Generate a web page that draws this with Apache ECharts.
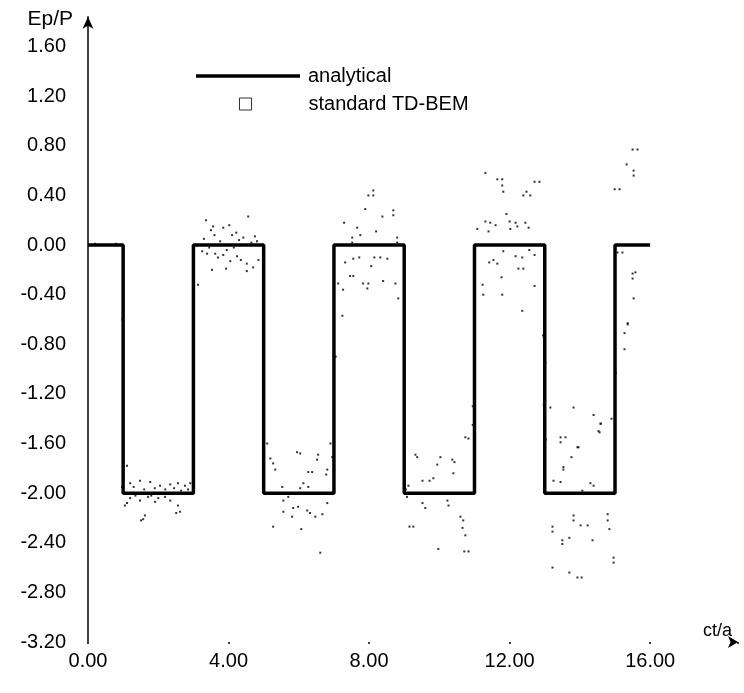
<!DOCTYPE html>
<html>
<head>
<meta charset="utf-8">
<script src="https://cdn.jsdelivr.net/npm/echarts@6/dist/echarts.min.js"></script>
<style>html,body{margin:0;padding:0;background:#fff;}#c{width:744px;height:693px;}</style>
</head>
<body>
<div id="c"></div>
<script>
// Analytical square wave (ct/a, Ep/P)
const analyticalX = [0, 1, 1, 3, 3, 5, 5, 7, 7, 9, 9, 11, 11, 13, 13, 15, 15, 16];
const analyticalY = [0, 0, -2, -2, 0, 0, -2, -2, 0, 0, -2, -2, 0, 0, -2, -2, 0, 0];

// Standard TD-BEM scattered results [ct/a, Ep/P]
const bemPoints = [
  [0.2,0.01],[0.5,0.0],[0.8,0.01],[1.0,-0.14],[0.98,-0.6],
  // segment 1 bottom
  [1.11,-1.78],[1.48,-1.9],[1.77,-1.91],[2.05,-1.94],[2.34,-1.93],[2.56,-1.92],[2.76,-1.94],[2.91,-1.92],
  [1.3,-1.95],[1.6,-1.97],[1.9,-1.96],[2.2,-1.97],[2.45,-1.96],[2.65,-1.98],[1.2,-1.92],[2.85,-1.97],
  [1.11,-2.08],[1.2,-2.04],[1.48,-2.06],[1.71,-2.03],[1.91,-2.07],[2.19,-2.03],[2.34,-2.06],[2.56,-2.1],
  [2.62,-2.15],[2.51,-2.16],[1.57,-2.21],[1.62,-2.18],[1.51,-2.22],[1.05,-2.1],[0.97,-1.95],[1.35,-2.02],[1.8,-2.02],[2.0,-2.04],
  // segment 2 top
  [3.36,0.2],[4.56,0.23],[3.56,0.15],[3.85,0.14],[4.02,0.16],[4.22,0.1],[4.42,0.06],[4.81,0.03],[3.76,0.03],
  [3.39,-0.07],[3.62,-0.07],[4.24,-0.09],[4.52,-0.15],[4.85,-0.12],[3.53,-0.2],[3.93,-0.19],[4.52,-0.21],[3.13,-0.32],
  [3.5,0.12],[4.1,0.08],[4.65,0.02],[3.95,-0.04],[4.35,-0.12],[3.25,-0.05],[4.7,-0.18],[4.05,-0.13],[3.7,-0.1],
  [3.3,0.05],[3.45,-0.02],[4.3,0.04],[4.75,0.07],[3.85,-0.08],[4.15,-0.02],[3.6,0.08],
  // segment 2 bottom
  [5.19,-1.72],[5.27,-1.76],[5.33,-1.81],[5.95,-1.67],[6.04,-1.68],[6.55,-1.69],[6.52,-1.73],[6.27,-1.83],[6.38,-1.83],
  [6.81,-1.81],[6.78,-1.85],[6.95,-1.71],[6.13,-1.92],[6.27,-1.95],[6.04,-1.96],[5.53,-1.95],[5.56,-2.06],[5.7,-2.03],
  [5.84,-2.12],[5.98,-2.11],[6.24,-2.14],[6.32,-2.16],[6.47,-2.19],[6.67,-2.17],[6.81,-2.08],[5.56,-2.15],[5.81,-2.19],
  [5.27,-2.27],[6.07,-2.29],[6.61,-2.48],[5.1,-1.6],[6.9,-1.6],
  // segment 3 top
  [8.12,0.44],[7.98,0.4],[8.12,0.4],[7.89,0.29],[8.69,0.28],[8.69,0.24],[8.38,0.23],[7.29,0.18],[7.66,0.14],[8.2,0.11],
  [7.75,0.08],[7.52,0.06],[7.52,0.02],[8.8,0.06],[8.8,0.02],[7.32,-0.14],[7.55,-0.11],[7.72,-0.1],[8.15,-0.1],[8.32,-0.1],
  [8.52,-0.11],[8.06,-0.17],[7.46,-0.25],[7.55,-0.25],[7.12,-0.31],[7.83,-0.31],[7.98,-0.31],[7.95,-0.35],[8.4,-0.29],
  [8.75,-0.31],[7.26,-0.36],[8.83,-0.43],[7.24,-0.57],[7.05,-0.9],
  // segment 3 bottom
  [9.32,-1.69],[9.37,-1.71],[10.03,-1.71],[9.94,-1.77],[10.37,-1.73],[10.43,-1.75],[10.4,-1.84],[10.74,-1.55],[10.83,-1.56],
  [9.52,-1.9],[9.72,-1.9],[9.83,-1.88],[9.12,-1.94],[9.52,-2.08],[9.6,-2.12],[10.23,-2.06],[10.26,-2.1],[10.6,-2.19],
  [10.68,-2.22],[9.15,-2.27],[9.26,-2.27],[10.66,-2.28],[10.74,-2.34],[9.97,-2.45],[10.71,-2.47],[10.83,-2.47],
  [9.05,-1.97],[9.08,-2.03],[10.95,-1.3],[10.95,-1.45],
  // segment 4 top
  [11.31,0.58],[11.65,0.53],[11.79,0.53],[11.79,0.48],[12.71,0.51],[12.85,0.51],[11.82,0.43],[12.48,0.43],[12.39,0.4],
  [12.59,0.4],[11.91,0.25],[11.31,0.19],[11.45,0.18],[11.6,0.16],[11.08,0.13],[11.4,0.11],[12.0,0.19],[12.02,0.13],
  [12.17,0.18],[12.22,0.15],[12.45,0.18],[12.54,0.14],[11.82,-0.05],[12.17,-0.09],[12.56,-0.04],[12.71,-0.08],
  [11.42,-0.14],[11.54,-0.12],[11.65,-0.15],[12.36,-0.1],[12.25,-0.19],[12.39,-0.19],[11.77,-0.26],[11.23,-0.32],
  [12.71,-0.33],[11.25,-0.4],[11.79,-0.4],[12.36,-0.53],
  // segment 4 bottom
  [13.45,-1.55],[13.59,-1.55],[13.45,-1.59],[13.96,-1.63],[14.59,-1.44],[14.56,-1.51],[13.76,-1.71],[13.53,-1.79],
  [13.53,-1.81],[13.25,-1.9],[13.45,-1.91],[14.3,-1.92],[14.39,-1.94],[14.07,-1.98],[13.82,-2.18],[13.82,-2.22],
  [14.02,-2.26],[14.22,-2.26],[14.79,-2.17],[14.79,-2.22],[14.84,-2.29],[13.22,-2.27],[13.22,-2.31],[13.5,-2.38],
  [13.5,-2.41],[13.7,-2.36],[14.36,-2.38],[14.96,-2.52],[14.96,-2.56],[13.22,-2.6],[13.7,-2.64],[13.93,-2.68],[14.05,-2.68],
  [13.16,-1.31],[13.82,-1.31],[14.39,-1.37],[14.59,-1.44],[14.53,-1.5],[13.93,-1.63],
  [12.95,-0.73],[13.02,-0.95],[12.97,-1.29],[13.03,-1.57],[15.0,-0.62],[15.02,-1.03],[14.9,-1.4],
  // segment 5 top
  [15.33,0.65],[15.53,0.6],[15.53,0.56],[14.99,0.45],[15.13,0.45],[15.5,0.77],[15.64,0.77],
  [15.07,-0.06],[15.21,-0.06],[15.5,-0.23],[15.58,-0.22],[15.5,-0.27],[15.53,-0.43],[15.36,-0.63],
  [15.36,-0.64],[15.27,-0.71],[15.27,-0.84]
];

const xTicks = [0, 4, 8, 12, 16];
const yTicks = [-3.2, -2.8, -2.4, -2.0, -1.6, -1.2, -0.8, -0.4, 0, 0.4, 0.8, 1.2, 1.6];

const FONT = "'Liberation Sans', Arial, sans-serif";
const chart = echarts.init(document.getElementById('c'), null, {renderer: 'canvas'});
const analyticalData = analyticalX.map((x, i) => [x, analyticalY[i]]);

chart.setOption({
  backgroundColor: '#fff',
  animation: false,
  textStyle: {fontFamily: FONT, color: '#000'},
  grid: {left: 88, right: 6, top: 16.8, bottom: 51, containLabel: false},
  legend: [
    {
      data: [{name: 'analytical', icon: 'rect', itemStyle: {color: '#000', borderWidth: 0}}],
      left: 196, top: 66, padding: 0, itemWidth: 104, itemHeight: 3.5,
      textStyle: {fontSize: 20, fontFamily: FONT, color: '#000', padding: [0, 0, 0, 3]}
    },
    {
      data: [{name: 'standard TD-BEM', icon: 'rect', itemStyle: {color: '#fff', borderColor: '#000', borderWidth: 1}}],
      left: 239, top: 94, padding: 0, itemWidth: 12, itemHeight: 12,
      textStyle: {fontSize: 20, fontFamily: FONT, color: '#000', padding: [0, 0, 0, 52]}
    }
  ],
  xAxis: {
    type: 'value', min: 0, max: 18.5, interval: 4,
    name: 'ct/a', nameLocation: 'end', nameGap: 0,
    nameTextStyle: {fontSize: 18, fontFamily: FONT, color: '#000', align: 'right', verticalAlign: 'bottom', padding: [0, 6, 2, 0]},
    axisLine: {show: true, onZero: false, symbol: ['none', 'arrow'], symbolSize: [9, 10], symbolOffset: [0, 0], lineStyle: {color: '#000', width: 0}},
    axisTick: {show: true, length: 2, lineStyle: {color: '#000', width: 1.5}},
    splitLine: {show: false},
    axisLabel: {
      fontSize: 20, fontFamily: FONT, color: '#000', margin: 9,
      formatter: v => xTicks.some(t => Math.abs(t - v) < 1e-6) ? v.toFixed(2) : ''
    }
  },
  yAxis: {
    type: 'value', min: -3.2, max: 1.84, interval: 0.4,
    name: 'Ep/P', nameLocation: 'end', nameGap: -2,
    nameTextStyle: {fontSize: 21, fontFamily: FONT, color: '#000', align: 'right', verticalAlign: 'middle', padding: [0, 15, 0, 0]},
    axisLine: {show: true, onZero: false, symbol: ['none', 'arrow'], symbolSize: [8, 12], lineStyle: {color: '#000', width: 1.5}},
    axisTick: {show: false},
    splitLine: {show: false},
    axisLabel: {
      fontSize: 20, fontFamily: FONT, color: '#000', margin: 22,
      formatter: v => yTicks.some(t => Math.abs(t - v) < 1e-6) ? v.toFixed(2) : ''
    }
  },
  series: [
    {
      name: 'analytical', type: 'line', data: analyticalData, symbol: 'none',
      lineStyle: {color: '#000', width: 3.5}, itemStyle: {color: '#000'}, z: 3
    },
    {
      name: 'standard TD-BEM', type: 'scatter', data: bemPoints, symbol: 'rect', symbolSize: 2,
      itemStyle: {color: '#000'}, z: 4
    }
  ]
});
</script>
</body>
</html>
